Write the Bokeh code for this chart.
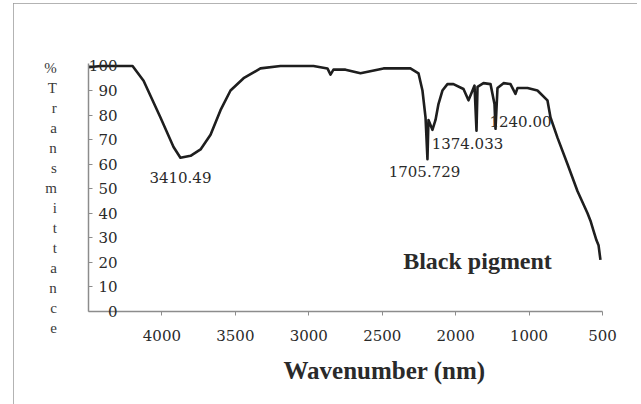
import numpy as np
from bokeh.plotting import figure
from bokeh.models import Range1d, FixedTicker, ColumnDataSource, Title, Label
from bokeh.core.properties import value
from bokeh.embed import file_html
from bokeh.resources import INLINE

# Axis tick labels (the printed axis is not linear: 4500..2000 in 500 steps, then 1000, 500)
tick_wn = [4500, 4000, 3500, 3000, 2500, 2000, 1000, 500]
tick_labels = ["", "4000", "3500", "3000", "2500", "2000", "1000", "500"]

# Spectrum (wavenumber on the printed scale, % transmittance)
wavenumber = [4500, 4418, 4200, 4125, 4010, 3921, 3874, 3805, 3737, 3669, 3601, 3533,
              3444, 3329, 3193, 2968, 2873, 2852, 2832, 2750, 2648, 2491, 2308, 2253,
              2226, 2205, 2192, 2185, 2158, 2137, 2117, 2090, 2056, 2015, 1893, 1825,
              1784, 1743, 1716, 1702, 1621, 1525, 1471, 1457, 1430, 1348, 1253, 1185,
              1158, 1021, 943, 875, 854, 806, 738, 670, 602, 582, 562, 541, 527, 514]
transmittance = [99.5, 100, 100, 94, 79, 67, 62.6, 63.4, 66, 72, 82, 90,
                 95, 99, 100, 100, 99, 96.5, 98.5, 98.5, 97, 99, 99, 97,
                 90, 79, 62, 78, 74, 78, 84.5, 90, 92.6, 92.6, 90.6, 86,
                 89, 92, 73.6, 91.5, 93, 92.6, 84.5, 74.4, 91, 93, 92.6, 88.6,
                 91, 91, 90, 86, 79, 70.7, 60, 49, 40, 37, 33, 29, 27, 21]

# Peak annotations: text, wavenumber of text centre, transmittance of text centre
peak_text = ["3410.49", "1705.729", "1374.033", "1240.00"]
peak_wn = [3874, 2212, 1839, 1117]
peak_t = [54.5, 56.9, 68.3, 77.2]

y_ticks = [0, 10, 20, 30, 40, 50, 60, 70, 80, 90, 100]
y_title = "%Transmittance"
x_title = "Wavenumber (nm)"


def pos(wn):
    return np.interp(-np.asarray(wn, dtype=float), -np.array(tick_wn, dtype=float),
                     np.arange(len(tick_wn), dtype=float))


p = figure(width=624, height=401, x_range=Range1d(0, 7), y_range=Range1d(0, 101),
           output_backend="svg", toolbar_location=None,
           min_border_left=75, min_border_right=35, min_border_top=60, min_border_bottom=93)
p.styles = {"margin-left": "13px", "margin-top": "3px", "width": "624px", "height": "401px",
            "outline": "1px solid #9a9a9a", "outline-offset": "-1px"}
p.grid.visible = False
p.outline_line_color = None
p.background_fill_color = "white"
p.border_fill_color = "white"

axis_col = "#8c8c8c"
serif = "DejaVu Serif"

# x axis
p.xaxis.ticker = FixedTicker(ticks=list(range(1, 8)))
p.xaxis.major_label_overrides = {i: t for i, t in enumerate(tick_labels) if t}
p.xaxis.axis_line_color = axis_col
p.xaxis.axis_line_width = 1.5
p.xaxis.major_tick_line_color = axis_col
p.xaxis.major_tick_out = 4
p.xaxis.major_tick_in = 0
p.xaxis.minor_tick_line_color = None
p.xaxis.major_label_standoff = 14
p.xaxis.major_label_text_font = serif
p.xaxis.major_label_text_font_size = "15px"
p.xaxis.major_label_text_color = "#2a2a2a"

# y axis (labels sit just inside the axis as in the original)
p.yaxis.ticker = FixedTicker(ticks=y_ticks)
p.yaxis.axis_line_color = axis_col
p.yaxis.axis_line_width = 1.5
p.yaxis.major_tick_line_color = axis_col
p.yaxis.major_tick_out = 0
p.yaxis.major_tick_in = 4
p.yaxis.minor_tick_line_color = None
p.yaxis.major_label_standoff = -29
p.yaxis.major_label_text_font = serif
p.yaxis.major_label_text_font_size = "15px"
p.yaxis.major_label_text_color = "#2a2a2a"
p.yaxis.axis_label = "\n" + "\n".join(y_title)
p.yaxis.axis_label_orientation = "horizontal"
p.yaxis.axis_label_standoff = 29
p.yaxis.axis_label_text_font = "Liberation Serif"
p.yaxis.axis_label_text_font_style = "normal"
p.yaxis.axis_label_text_font_size = "15px"
p.yaxis.axis_label_text_line_height = 1.25
p.yaxis.axis_label_text_color = "#3a3a3a"

src = ColumnDataSource(dict(x=pos(wavenumber), y=transmittance))
p.line("x", "y", source=src, line_color="#1e1e1e", line_width=2.6, line_join="round")

psrc = ColumnDataSource(dict(x=pos(peak_wn), y=peak_t, t=peak_text))
p.text("x", "y", text="t", source=psrc, text_font=value(serif), text_font_size="15px",
       text_align="center", text_baseline="middle", text_color="#2a2a2a")

p.add_layout(Label(x=pos(1702), y=20.7, text="Black pigment", text_font="Liberation Serif",
                   text_font_style="bold", text_font_size="24px", text_color="#2a2a2a",
                   text_align="center", text_baseline="middle"))

p.add_layout(Title(text=x_title, align="left", offset=195, standoff=23,
                   text_font="Liberation Serif", text_font_style="bold",
                   text_font_size="25px", text_color="#2a2a2a"), "below")

open("out.html", "w").write(file_html(p, INLINE))
